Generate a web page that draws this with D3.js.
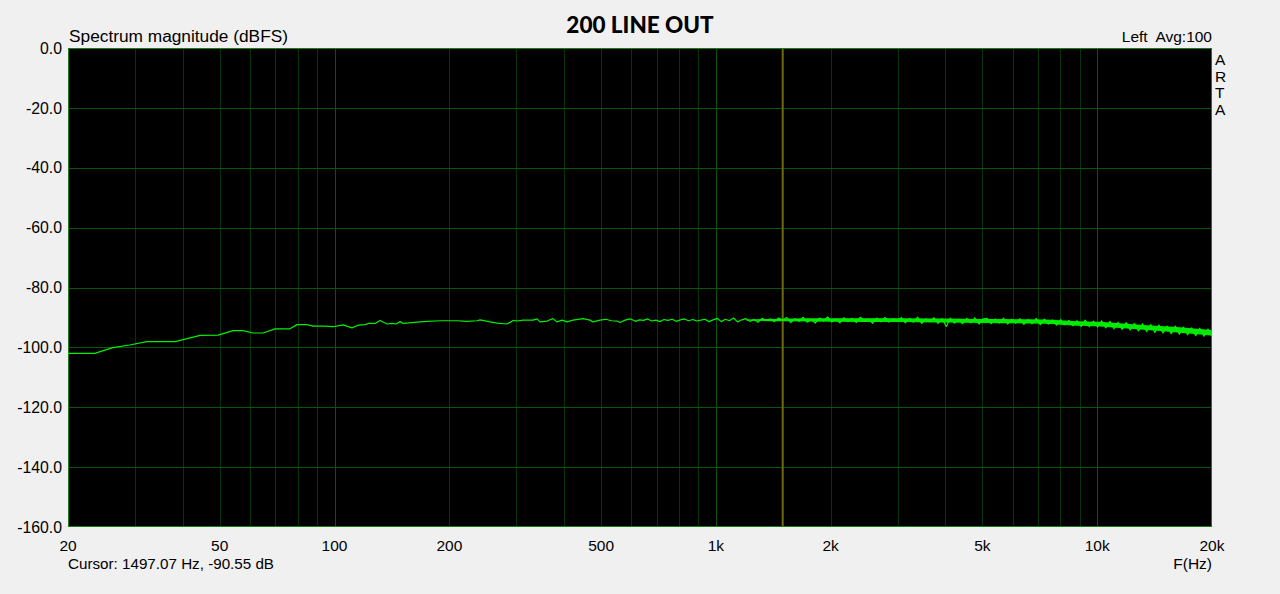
<!DOCTYPE html>
<html>
<head>
<meta charset="utf-8">
<script src="https://cdn.jsdelivr.net/npm/d3@7"></script>
<style>
  html, body { margin: 0; padding: 0; background: #f0f0f0; }
  svg { display: block; }
  text { font-family: "Liberation Sans", Arial, sans-serif; fill: #000; }
</style>
</head>
<body>
<svg id="chart" width="1280" height="594"></svg>
<script>
// ---- data ----
const chartTitle = "200 LINE OUT";
const yAxisTitle = "Spectrum magnitude (dBFS)";
const xAxisTitle = "F(Hz)";
const channelLabel = "Left  Avg:100";
const brandLetters = ["A", "R", "T", "A"];
const cursorHz = 1497.07;
const cursorDb = -90.55;

const yTicks = [0, -20, -40, -60, -80, -100, -120, -140, -160];
const xTickHz = [20, 50, 100, 200, 500, 1000, 2000, 5000, 10000, 20000];
const xTickLabels = ["20", "50", "100", "200", "500", "1k", "2k", "5k", "10k", "20k"];

// smooth low-frequency part of the spectrum
const lowHz = [20, 23.5, 26.2, 29, 32.2, 38.2, 44.4, 49.5, 54.2, 57.5,
  61.1, 64.9, 69.8, 76.4, 79.7, 84.7, 87.8, 94.4, 99.1, 105.3,
  111.1, 115.2, 120.2, 123, 127.7, 131.6, 137.3, 141.5, 145, 148.5,
  151.2, 170.6, 189, 209.5, 222.5, 236.4, 240.7, 255.8, 266.8, 283.4,
  293.8, 301, 312.2, 331.6, 339.6, 345.8, 360.7, 374, 383.2, 395,
  407, 422, 448, 467.6, 476, 496.8, 515, 532, 550.6, 560.6, 577.8, 595];
const lowDb = [-102.0, -102.0, -100.1, -99.2, -98.1, -98.1, -96.0, -95.9, -94.4, -94.4,
  -95.2, -95.2, -93.8, -93.8, -92.4, -92.4, -92.9, -92.9, -93.1, -92.5,
  -93.5, -92.6, -92.4, -92.0, -92.0, -91.0, -92.2, -92.0, -92.2, -91.4,
  -92.0, -91.4, -91.1, -91.1, -91.3, -91.1, -90.8, -91.5, -91.9, -92.2,
  -91.0, -91.2, -90.9, -90.9, -90.5, -91.5, -91.2, -90.4, -91.5, -90.9,
  -91.5, -90.9, -90.4, -90.9, -91.5, -90.9, -90.6, -91.1, -91.2, -91.7, -90.9, -90.5];

// noisy part of the spectrum (600 Hz - 20 kHz)
const noiseHz = [
  600, 615, 630, 646, 662, 679, 696, 713, 731, 749, 768, 787, 807, 827, 848, 869, 891, 913, 936, 959, 983,
  1008, 1033, 1059, 1085, 1112, 1140, 1169, 1198, 1228, 1259, 1290, 1322, 1355, 1389, 1424, 1460, 1496,
  1534, 1572, 1611, 1652, 1693, 1735, 1779, 1823, 1869, 1916, 1964, 2013, 2063, 2115, 2168, 2222, 2277, 2334, 2393, 2453, 2514, 2577, 2641, 2707, 2775, 2844, 2915, 2988,
  3063, 3139, 3218, 3298, 3381, 3465, 3552, 3641, 3732, 3825, 3921, 4019, 4119, 4222, 4328, 4436, 4547, 4661, 4777, 4897, 5019,
  5145, 5273, 5405, 5540, 5679, 5821, 5966, 6115, 6268, 6425, 6586, 6750, 6919, 7092, 7269, 7451, 7637, 7828, 8024, 8224, 8430, 8641, 8857, 9078, 9305, 9538, 9776, 10021,
  10271, 10528, 10791, 11061, 11338, 11621, 11912, 12209, 12515, 12828, 13148, 13477, 13814, 14159, 14513, 14876, 15248, 15629, 16020, 16421, 16831, 17252, 17683, 18125, 18578, 19043, 19519, 20000];
const noiseDb = [
  -90.6, -91.3, -90.8, -91.0, -90.5, -91.2, -90.9, -91.4, -90.7, -91.0, -90.6, -91.3, -90.8, -90.5, -91.1, -90.7, -91.2, -90.9, -90.6, -91.4, -90.8,
  -90.3, -91.4, -90.6, -91.1, -90.2, -91.5, -90.8, -90.4, -91.3, -90.7, -91.6, -90.3, -91.0, -90.5, -91.4, -90.2, -90.9,
  -90.0, -91.7, -90.4, -91.3, -89.9, -91.6, -90.6, -91.9, -90.2, -91.2, -89.8, -91.5, -90.5, -91.8, -90.1, -91.4, -90.3, -91.7, -89.9, -91.2, -90.6, -92.0, -90.2, -91.5, -90.0, -91.6, -90.4, -91.3,
  -90.0, -91.8, -90.3, -91.6, -89.9, -92.0, -90.5, -91.5, -90.1, -92.0, -90.4, -93.0, -90.2, -91.9, -90.6, -92.1, -90.3, -91.8, -90.1, -92.2, -90.5,
  -90.3, -92.1, -90.5, -91.9, -90.2, -92.2, -90.6, -92.0, -90.4, -92.3, -90.7, -92.1, -90.3, -92.4, -90.6, -92.2, -90.8, -92.6, -90.7, -92.5, -91.0, -92.8, -91.1, -93.0, -90.9, -93.1, -91.2, -93.2,
  -91.1, -93.5, -91.3, -93.8, -91.6, -94.0, -91.7, -94.2, -92.0, -94.5, -92.1, -94.7, -92.4, -95.0, -92.5, -95.2, -92.9, -95.4, -92.9, -95.6, -93.2, -95.8, -93.5, -96.1, -93.6, -96.3, -93.9, -96.2];

// dense body of the trace at high frequencies (upper / lower edge)
const bandHz = [1200, 1500, 2000, 3000, 5000, 7200, 8850, 10000, 10800, 13200, 16200, 18600, 20000];
const bandTop = [-90.65, -90.4, -90.3, -90.3, -90.55, -90.7, -91.25, -91.45, -91.7, -92.5, -93.2, -93.9, -94.3];
const bandBottom = [-91.05, -91.3, -91.4, -91.5, -91.85, -92.1, -92.75, -92.95, -93.3, -94.1, -95.0, -95.7, -96.1];

// ---- drawing ----
const svg = d3.select("#chart");
const pL = 68, pR = 1212, pT = 48, pB = 527;

const x = d3.scaleLog().domain([20, 20000]).range([pL, pR]);
const y = d3.scaleLinear().domain([0, -160]).range([pT, pB]);

// plot background
svg.append("rect").attr("x", pL).attr("y", pT)
  .attr("width", pR - pL).attr("height", pB - pT)
  .attr("fill", "#000");

// vertical grid: minor (2..9 per decade) and major (decades)
const minor = [], major = [];
[10, 100, 1000, 10000].forEach(dec => {
  for (let k = 1; k <= 9; k++) {
    const f = dec * k;
    if (f <= 20 || f >= 20000) continue;
    (k === 1 ? major : minor).push(f);
  }
});
svg.append("g").selectAll("line").data(minor).join("line")
  .attr("x1", d => Math.round(x(d)) + 0.5).attr("x2", d => Math.round(x(d)) + 0.5)
  .attr("y1", pT).attr("y2", pB)
  .attr("stroke", "#083508").attr("stroke-width", 1);
svg.append("g").selectAll("line").data(major).join("line")
  .attr("x1", d => Math.round(x(d)) + 0.5).attr("x2", d => Math.round(x(d)) + 0.5)
  .attr("y1", pT).attr("y2", pB)
  .attr("stroke", "#0c540c").attr("stroke-width", 1);

// horizontal grid
svg.append("g").selectAll("line").data(yTicks.slice(1, -1)).join("line")
  .attr("x1", pL).attr("x2", pR)
  .attr("y1", d => Math.round(y(d)) + 0.5).attr("y2", d => Math.round(y(d)) + 0.5)
  .attr("stroke", "#0c540c").attr("stroke-width", 1);

// cursor line
svg.append("line")
  .attr("x1", x(cursorHz)).attr("x2", x(cursorHz))
  .attr("y1", pT).attr("y2", pB)
  .attr("stroke", "#6e6a12").attr("stroke-width", 2);

// frame
svg.append("rect").attr("x", pL + 0.5).attr("y", pT + 0.5)
  .attr("width", pR - pL - 1).attr("height", pB - pT - 1)
  .attr("fill", "none").attr("stroke", "#1a7a1a").attr("stroke-width", 1);

// trace
const band = bandHz.map((f, i) => ({ f, hi: bandTop[i], lo: bandBottom[i] }));
svg.append("path").datum(band)
  .attr("d", d3.area().x(d => x(d.f)).y0(d => y(d.lo)).y1(d => y(d.hi)).curve(d3.curveMonotoneX))
  .attr("fill", "#00e800");

const trace = lowHz.map((f, i) => ({ f, v: lowDb[i] }))
  .concat(noiseHz.map((f, i) => ({ f, v: noiseDb[i] })));
svg.append("path").datum(trace)
  .attr("d", d3.line().x(d => x(d.f)).y(d => y(d.v)))
  .attr("fill", "none").attr("stroke", "#00f000").attr("stroke-width", 1.2)
  .attr("stroke-linejoin", "round");

// y tick labels
svg.append("g").selectAll("text").data(yTicks).join("text")
  .attr("x", 62).attr("y", d => y(d)).attr("dy", "0.36em")
  .attr("text-anchor", "end").attr("font-size", 15.8)
  .text(d => d.toFixed(1));

// x tick labels
svg.append("g").selectAll("text").data(xTickHz).join("text")
  .attr("x", d => x(d)).attr("y", 551)
  .attr("text-anchor", "middle").attr("font-size", 15.5)
  .text((d, i) => xTickLabels[i]);

// titles & annotations
svg.append("text").attr("x", 640).attr("y", 33).attr("text-anchor", "middle")
  .attr("font-size", 22.5).attr("font-weight", 900)
  .style("font-family", "Lato, 'DejaVu Sans', sans-serif")
  .text(chartTitle);
svg.append("text").attr("x", 69).attr("y", 42).attr("font-size", 17.3).text(yAxisTitle);
svg.append("text").attr("x", 1212).attr("y", 42).attr("text-anchor", "end")
  .attr("font-size", 15.5).style("white-space", "pre").text(channelLabel);
svg.append("text").attr("x", 68).attr("y", 569).attr("font-size", 15.2)
  .text(`Cursor: ${cursorHz.toFixed(2)} Hz, ${cursorDb.toFixed(2)} dB`);
svg.append("text").attr("x", 1212).attr("y", 569).attr("text-anchor", "end")
  .attr("font-size", 15.5).text(xAxisTitle);
svg.append("g").selectAll("text").data(brandLetters).join("text")
  .attr("x", 1215).attr("y", (d, i) => 65 + i * 16.5).attr("font-size", 15.5)
  .text(d => d);
</script>
</body>
</html>
